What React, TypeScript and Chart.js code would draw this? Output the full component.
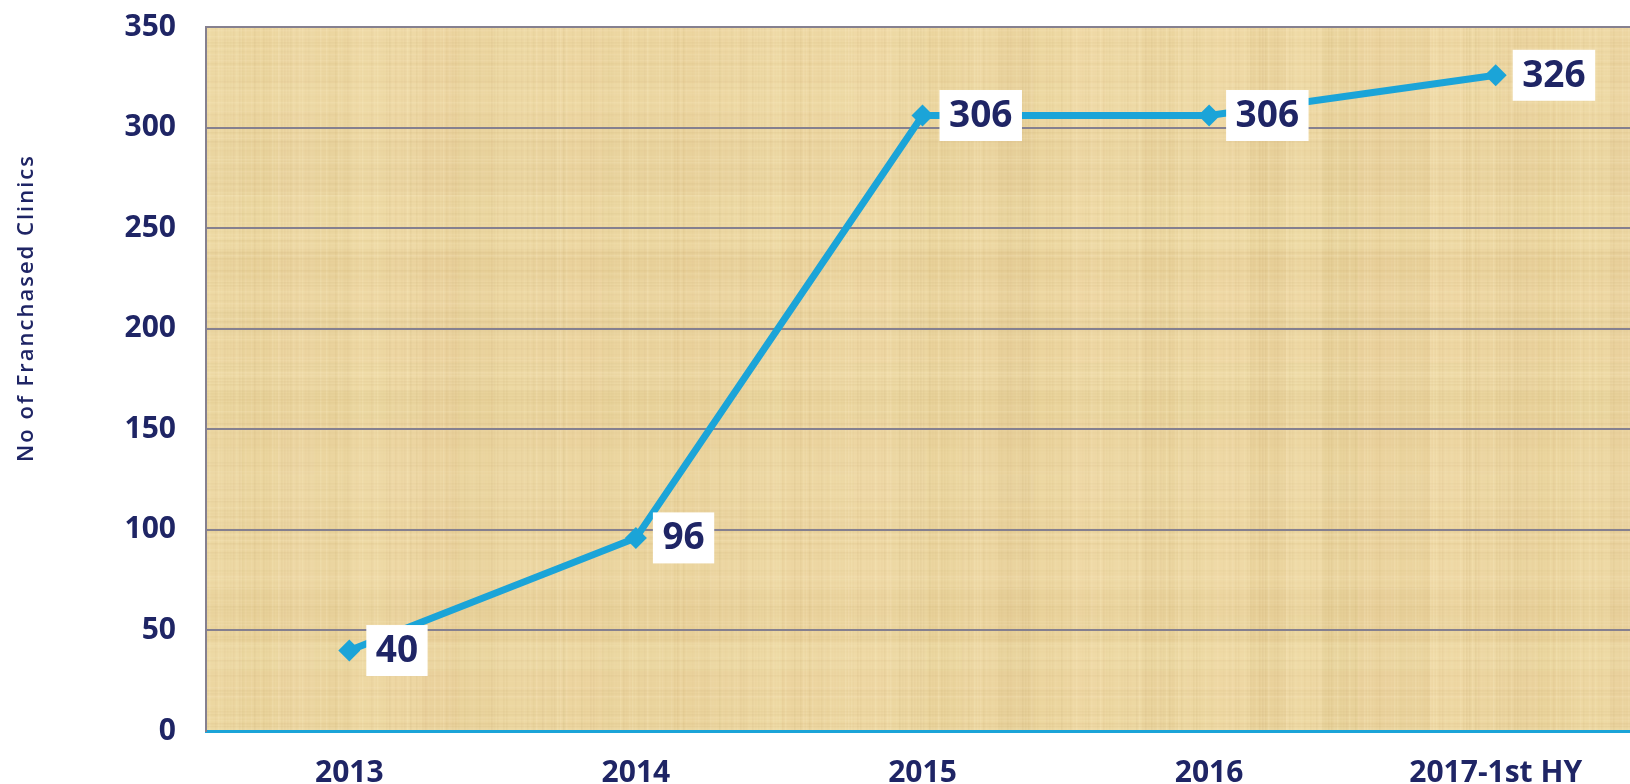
import React, { useEffect, useRef } from "react";
import { Chart, registerables } from "chart.js";

Chart.register(...registerables);

const categories = ["2013", "2014", "2015", "2016", "2017-1st HY"];
const clinics = [40, 96, 306, 306, 326];
const yTicks = [0, 50, 100, 150, 200, 250, 300, 350];
const yTitle = "No of Franchased Clinics";

const NAVY = "#1f2565";
const LINE = "#1ba4d8";
const GRID = "#85808f";

function hash(n: number) {
  const s = Math.sin(n * 12.9898 + 78.233) * 43758.5453;
  return s - Math.floor(s);
}

function makeTexture(w: number, h: number) {
  const c = document.createElement("canvas");
  c.width = Math.max(1, Math.ceil(w));
  c.height = Math.max(1, Math.ceil(h));
  const g = c.getContext("2d")!;
  g.fillStyle = "#ecd6a1";
  g.fillRect(0, 0, c.width, c.height);
  // broad soft vertical bands
  for (let x = 0; x < c.width; x += 36) {
    const v = hash(x * 0.37 + 1);
    g.fillStyle = v > 0.5 ? `rgba(248,230,180,${(v - 0.5) * 0.4})` : `rgba(205,172,105,${(0.5 - v) * 0.2})`;
    g.fillRect(x, 0, 36, c.height);
  }
  // broad soft horizontal bands
  for (let y = 0; y < c.height; y += 28) {
    const v = hash(y * 0.73 + 5);
    g.fillStyle = v > 0.5 ? `rgba(250,234,186,${(v - 0.5) * 0.3})` : `rgba(205,170,100,${(0.5 - v) * 0.14})`;
    g.fillRect(0, y, c.width, 28);
  }
  // fine vertical fibres
  for (let x = 0; x < c.width; x += 3) {
    const v = hash(x * 1.91 + 3);
    g.fillStyle = v > 0.55 ? `rgba(255,242,205,${(v - 0.55) * 0.45})` : `rgba(185,150,90,${(0.55 - v) * 0.18})`;
    g.fillRect(x, 0, 1.5, c.height);
  }
  // fine horizontal fibres
  for (let y = 0; y < c.height; y += 3) {
    const v = hash(y * 2.71 + 9);
    g.fillStyle = v > 0.55 ? `rgba(255,242,208,${(v - 0.55) * 0.4})` : `rgba(180,145,85,${(0.55 - v) * 0.16})`;
    g.fillRect(0, y, c.width, 1.5);
  }
  return c;
}

const backgroundPlugin = {
  id: "papyrus",
  beforeDraw(chart: any) {
    const a = chart.chartArea;
    if (!a) return;
    const ctx = chart.ctx;
    const tex = makeTexture(a.right - a.left, a.bottom - a.top);
    ctx.save();
    ctx.drawImage(tex, a.left, a.top);
    ctx.restore();
  },
};

const titlePlugin = {
  id: "ytitle",
  afterDraw(chart: any) {
    const ctx = chart.ctx;
    ctx.save();
    ctx.translate(27, 308);
    ctx.rotate(-Math.PI / 2);
    ctx.font = "600 22px 'Open Sans'";
    (ctx as any).letterSpacing = "2px";
    ctx.fillStyle = NAVY;
    ctx.textAlign = "center";
    ctx.textBaseline = "middle";
    ctx.fillText(yTitle, 0, 0);
    ctx.restore();
  },
};

const labelPlugin = {
  id: "boxLabels",
  afterDatasetsDraw(chart: any) {
    const ctx = chart.ctx;
    const meta = chart.getDatasetMeta(0);
    ctx.save();
    ctx.font = "700 37px 'Open Sans'";
    meta.data.forEach((pt: any, i: number) => {
      const text = String(chart.data.datasets[0].data[i]);
      const tw = ctx.measureText(text).width;
      const bx = pt.x + 17;
      const bw = tw + 19;
      const bh = 51;
      const by = pt.y - bh / 2;
      ctx.fillStyle = "#ffffff";
      ctx.fillRect(bx, by, bw, bh);
      ctx.fillStyle = NAVY;
      ctx.textAlign = "left";
      ctx.textBaseline = "middle";
      ctx.fillText(text, bx + 9.5, pt.y + 1);
    });
    ctx.restore();
  },
};

export default function App() {
  const ref = useRef<HTMLCanvasElement | null>(null);

  useEffect(() => {
    if (!ref.current) return;
    const chart = new Chart(ref.current, {
      type: "line",
      data: {
        labels: categories,
        datasets: [
          {
            data: clinics,
            borderColor: LINE,
            backgroundColor: LINE,
            borderWidth: 7,
            pointStyle: "rectRot",
            pointRadius: 11,
            pointBorderWidth: 0,
            pointBackgroundColor: LINE,
            tension: 0,
            fill: false,
          },
        ],
      },
      options: {
        responsive: false,
        animation: false,
        layout: { padding: { left: 0, top: 27, right: 10, bottom: 0 } },
        plugins: {
          legend: { display: false },
          tooltip: { enabled: false },
          title: { display: false },
        },
        scales: {
          x: {
            type: "category",
            offset: true,
            grid: { display: false, drawTicks: false },
            border: { display: true, color: LINE, width: 3 },
            ticks: {
              color: NAVY,
              font: { family: "'Open Sans'", weight: "bold", size: 30 },
              padding: 24,
              maxRotation: 0,
              autoSkip: false,
            },
            afterFit: (s: any) => {
              s.height = 53;
              s.paddingLeft = 0;
              s.paddingRight = 0;
            },
          },
          y: {
            min: 0,
            max: 350,
            afterBuildTicks: (s: any) => {
              s.ticks = yTicks.map((v) => ({ value: v }));
            },
            grid: { color: GRID, lineWidth: 2, drawTicks: false },
            border: { display: true, color: GRID, width: 2 },
            ticks: {
              color: NAVY,
              font: { family: "'Open Sans'", weight: "bold", size: 30 },
              padding: 30,
            },
            afterFit: (s: any) => {
              s.width = 206;
              s.paddingTop = 0;
              s.paddingBottom = 0;
            },
          },
        },
      },
      plugins: [backgroundPlugin, titlePlugin, labelPlugin],
    });
    return () => chart.destroy();
  }, []);

  return (
    <div
      style={{
        position: "fixed",
        left: 0,
        top: 0,
        width: 1630,
        height: 784,
        overflow: "hidden",
        background: "#ffffff",
      }}
    >
      <canvas ref={ref} width={1650} height={784} style={{ width: 1650, height: 784, display: "block" }} />
    </div>
  );
}
